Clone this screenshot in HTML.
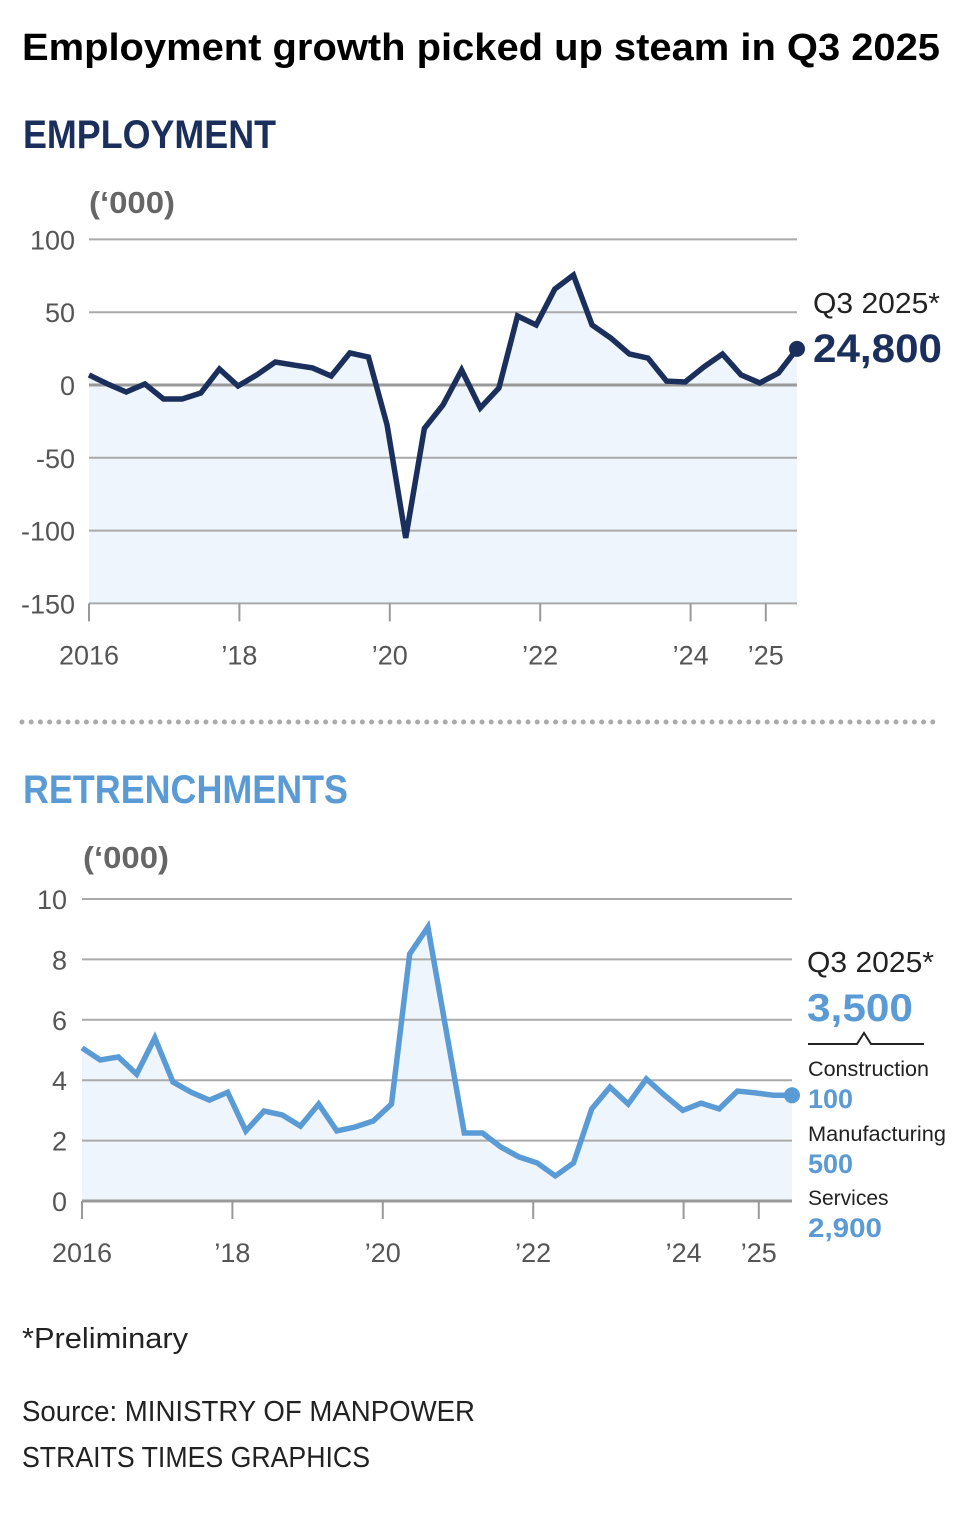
<!DOCTYPE html>
<html><head><meta charset="utf-8"><style>
body{margin:0;background:#fff}
svg{display:block;font-family:"Liberation Sans",sans-serif}
</style></head><body>
<svg id="svg" width="960" height="1530" viewBox="0 0 960 1530">
<text x="22" y="60" font-size="38" font-weight="bold" fill="#000" textLength="918" lengthAdjust="spacingAndGlyphs">Employment growth picked up steam in Q3 2025</text>
<text x="23" y="148" font-size="40" font-weight="bold" fill="#1b2f5c" textLength="253" lengthAdjust="spacingAndGlyphs">EMPLOYMENT</text>
<text x="89" y="213" font-size="31" font-weight="bold" fill="#666" textLength="86" lengthAdjust="spacingAndGlyphs">(‘000)</text>
<g id="top"></g>
<line x1="22" y1="722" x2="940" y2="722" stroke="#aaa" stroke-width="5" stroke-dasharray="0 9.2" stroke-linecap="round"/>
<text x="23" y="803" font-size="40" font-weight="bold" fill="#5b9bd5" textLength="325" lengthAdjust="spacingAndGlyphs">RETRENCHMENTS</text>
<text x="83" y="868" font-size="31" font-weight="bold" fill="#666" textLength="86" lengthAdjust="spacingAndGlyphs">(‘000)</text>
<g id="bot"></g>
<text x="813" y="313" font-size="29" fill="#222" textLength="127" lengthAdjust="spacingAndGlyphs">Q3 2025*</text>
<text x="813" y="362" font-size="40" font-weight="bold" fill="#1b2f5c" textLength="129" lengthAdjust="spacingAndGlyphs">24,800</text>
<text x="807" y="972" font-size="29" fill="#222" textLength="127" lengthAdjust="spacingAndGlyphs">Q3 2025*</text>
<text x="807" y="1021" font-size="39" font-weight="bold" fill="#5b9bd5" textLength="106" lengthAdjust="spacingAndGlyphs">3,500</text>
<path d="M808 1044 H857 L864 1033 L871 1044 H924" fill="none" stroke="#222" stroke-width="2"/>
<text x="808" y="1076" font-size="21" fill="#222" textLength="121" lengthAdjust="spacingAndGlyphs">Construction</text>
<text x="808" y="1108" font-size="27" font-weight="bold" fill="#5b9bd5">100</text>
<text x="808" y="1141" font-size="21" fill="#222" textLength="138" lengthAdjust="spacingAndGlyphs">Manufacturing</text>
<text x="808" y="1173" font-size="27" font-weight="bold" fill="#5b9bd5">500</text>
<text x="808" y="1205" font-size="21" fill="#222">Services</text>
<text x="808" y="1237" font-size="27" font-weight="bold" fill="#5b9bd5" textLength="74" lengthAdjust="spacingAndGlyphs">2,900</text>
<text x="22" y="1348" font-size="29" fill="#222" textLength="166" lengthAdjust="spacingAndGlyphs">*Preliminary</text>
<text x="22" y="1421" font-size="29" fill="#222" textLength="453" lengthAdjust="spacingAndGlyphs">Source: MINISTRY OF MANPOWER</text>
<text x="22" y="1467" font-size="29" fill="#222" textLength="348" lengthAdjust="spacingAndGlyphs">STRAITS TIMES GRAPHICS</text>
</svg>
<script>
const empValues=[6.9,0.7,-4.8,0.7,-9.6,-9.6,-5.5,11,-0.7,6.9,15.8,13.7,11.7,6.2,22,19.2,-27.5,-105,-29.8,-13.7,10.3,-15.8,-2.1,47.4,41.2,65.9,75.5,41.2,32.3,21.3,18.5,2.7,2.1,12.4,21.3,6.9,1.4,8.2,24.8];
const empTicks=[100,50,0,-50,-100,-150];
const empXLabels=["2016","’18","’20","’22","’24","’25"];
const empXTickQ=[0,8,16,24,32,36];
const retValues=[5.07,4.67,4.77,4.2,5.4,3.94,3.6,3.34,3.6,2.32,2.98,2.85,2.48,3.21,2.32,2.45,2.65,3.21,8.18,9.07,5.66,2.25,2.25,1.79,1.46,1.26,0.83,1.26,3.05,3.77,3.21,4.04,3.5,3.0,3.24,3.05,3.64,3.58,3.5,3.5];
const retTicks=[10,8,6,4,2,0];
const retXLabels=["2016","’18","’20","’22","’24","’25"];
const retXTickQ=[0,8,16,24,32,36];
const NS="http://www.w3.org/2000/svg";
function mk(parent,tag,attrs){const e=document.createElementNS(NS,tag);for(const k in attrs)e.setAttribute(k,attrs[k]);parent.appendChild(e);return e;}
function draw(g,vals,ticks,xl,xq,cfg){
  const n=vals.length;
  const xq2=i=>cfg.x0+(cfg.x1-cfg.x0)*i/(n-1);
  const xtick=q=>cfg.x0+cfg.qstep*q;
  const y=v=>cfg.yZero-(v)*cfg.ppu;
  const ymin=Math.min(...ticks);
  let d="M"+xq2(0)+" "+y(vals[0]);
  for(let i=1;i<n;i++)d+=" L"+xq2(i)+" "+y(vals[i]);
  const area=mk(g,"path",{d:d+" L"+xq2(n-1)+" "+y(ymin)+" L"+xq2(0)+" "+y(ymin)+"Z",fill:cfg.fill});
  
  
  ticks.forEach(t=>{
    const l=mk(g,"line",{x1:cfg.x0,x2:cfg.x1,y1:y(t),y2:y(t),stroke:t===0?"#999":"#aaa","stroke-width":t===0?3:2});
    
    
    const tx=mk(g,"text",{x:cfg.labelX,y:y(t)+10,"text-anchor":"end","font-size":27,fill:"#555"});
    tx.textContent=String(t);
    
    
  });
  xq.forEach((q,i)=>{
    const x=xtick(q);
    const l=mk(g,"line",{x1:x,x2:x,y1:y(ymin),y2:y(ymin)+18,stroke:"#999","stroke-width":2});
    
    
    const tx=mk(g,"text",{x:x,y:y(ymin)+61,"text-anchor":"middle","font-size":27,fill:"#555"});
    tx.textContent=xl[i];
    
    
  });
  const line=mk(g,"path",{d:d,fill:"none",stroke:cfg.color,"stroke-width":5.5,"stroke-linejoin":"miter"});
  
  
  const dot=mk(g,"circle",{cx:xq2(n-1),cy:y(vals[n-1]),r:8,fill:cfg.color});
  
  
}
draw(document.getElementById("top"),empValues,empTicks,empXLabels,empXTickQ,{x0:89,x1:797,qstep:18.8,yZero:385,ppu:1.456,labelX:75,color:"#1b2f5c",fill:"#eef5fc",name:"employment"});
draw(document.getElementById("bot"),retValues,retTicks,retXLabels,retXTickQ,{x0:82,x1:792,qstep:18.8,yZero:1201,ppu:30.2,labelX:67,color:"#5b9bd5",fill:"#eef5fc",name:"retrenchments"});
</script>
</body></html>
